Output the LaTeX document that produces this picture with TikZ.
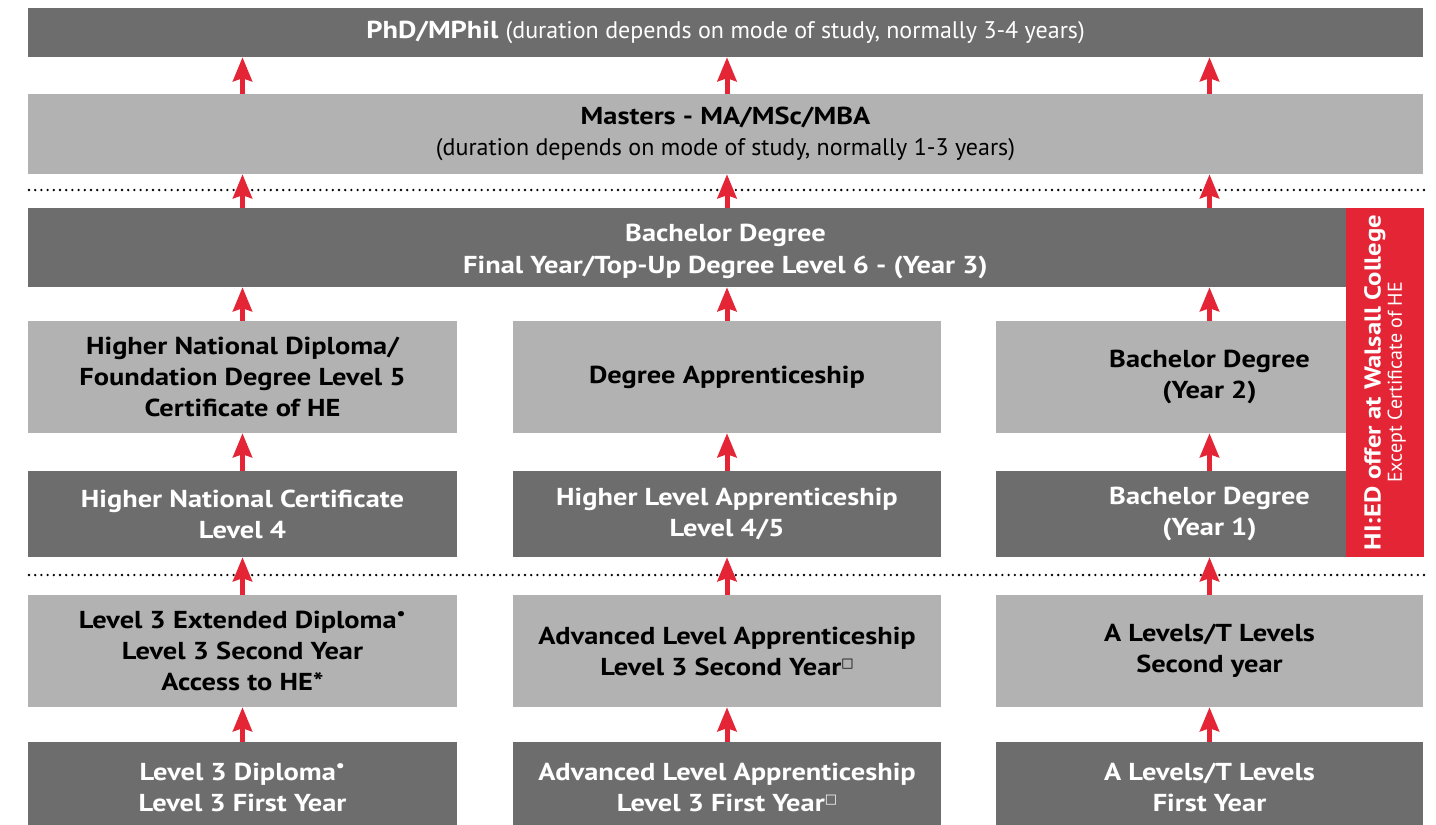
\documentclass[tikz,border=0pt]{standalone}
\usepackage{fontspec}
\setmainfont{PT Sans}[BoldFeatures={FakeStretch=1.16}]
\newfontfamily\symfont{DejaVu Sans}
\usetikzlibrary{arrows.meta}
\definecolor{boxdark}{HTML}{6D6D6D}
\definecolor{boxlight}{HTML}{B2B2B2}
\definecolor{hired}{HTML}{E42535}
\newcommand{\sqmark}{\raisebox{0.6ex}{\symfont\fontsize{13}{13}\selectfont □}}
\newcommand{\dotmark}{\textsuperscript{•}}
\newcommand{\plainpart}{\mdseries\fontsize{24}{31}\selectfont}
\begin{document}
\begin{tikzpicture}[x=1pt,y=-1pt,
    darkbox/.style={fill=boxdark,text=white,inner sep=0pt,align=center,font=\fontsize{24.5}{31}\selectfont\bfseries},
    lightbox/.style={fill=boxlight,text=black,inner sep=0pt,align=center,font=\fontsize{24.5}{31}\selectfont\bfseries},
    uparrow/.style={draw=hired,line width=5pt,-{Stealth[width=19pt,length=24pt,inset=3pt]}},
    dotline/.style={line width=2.6pt,line cap=round,dash pattern=on 0pt off 6.2pt}]
    \useasboundingbox (0,0) rectangle (1436,825);

    \node[darkbox,minimum width=1395pt,minimum height=49pt] (phd) at (725.5,32.5)
        {PhD/MPhil \plainpart(duration depends on mode of study, normally 3-4 years)};
    \node[lightbox,minimum width=1395pt,minimum height=80pt] (masters) at (725.5,134)
        {Masters - MA/MSc/MBA\\\plainpart(duration depends on mode of study, normally 1-3 years)};
    \node[darkbox,minimum width=1395pt,minimum height=79pt,text depth=0pt] (bach) at (725.5,247.5)
        {\raisebox{-3pt}{\shortstack{Bachelor Degree\\[6pt]Final Year/Top-Up Degree Level 6 - (Year 3)}}};

    \node[lightbox,minimum width=429pt,minimum height=112pt] (r4c1) at (242.5,377)
        {Higher National Diploma/\\Foundation Degree Level 5\\Certificate of HE};
    \node[lightbox,minimum width=428pt,minimum height=112pt] (r4c2) at (727,377)
        {Degree Apprenticeship};
    \node[lightbox,minimum width=427pt,minimum height=112pt] (r4c3) at (1209.5,377)
        {Bachelor Degree\\(Year 2)};

    \node[darkbox,minimum width=429pt,minimum height=86pt] (r5c1) at (242.5,514)
        {Higher National Certificate\\Level 4};
    \node[darkbox,minimum width=428pt,minimum height=86pt] (r5c2) at (727,514)
        {Higher Level Apprenticeship\\Level 4/5};
    \node[darkbox,minimum width=427pt,minimum height=86pt] (r5c3) at (1209.5,514)
        {Bachelor Degree\\(Year 1)};

    \node[lightbox,minimum width=429pt,minimum height=112pt] (r6c1) at (242.5,651)
        {Level 3 Extended Diploma\dotmark\\Level 3 Second Year\\Access to HE*};
    \node[lightbox,minimum width=428pt,minimum height=112pt] (r6c2) at (727,651)
        {Advanced Level Apprenticeship\\Level 3 Second Year\sqmark};
    \node[lightbox,minimum width=427pt,minimum height=112pt] (r6c3) at (1209.5,651)
        {A Levels/T Levels\\Second year};

    \node[darkbox,minimum width=429pt,minimum height=90pt] (r7c1) at (242.5,787)
        {Level 3 Diploma\dotmark\\Level 3 First Year};
    \node[darkbox,minimum width=428pt,minimum height=90pt] (r7c2) at (727,787)
        {Advanced Level Apprenticeship\\Level 3 First Year\sqmark};
    \node[darkbox,minimum width=427pt,minimum height=90pt] (r7c3) at (1209.5,787)
        {A Levels/T Levels\\First Year};

    \node[fill=hired,text=white,inner sep=0pt,minimum width=78pt,minimum height=349pt] (hied) at (1385,382.5) {};
    \node[text=white,rotate=90,align=center,inner sep=0pt] (hiedtext) at (hied.center)
        {\fontsize{23}{28}\selectfont\bfseries HI:ED offer at Walsall College\\[1pt]
         \fontsize{20}{22}\selectfont Except Certificate of HE};

    \draw[dotline] (29,190) -- (1425,190);
    \draw[dotline] (29,575) -- (1425,575);

    \foreach \c in {1,2,3} {
        \draw[uparrow] (r7c\c.north) -- (r6c\c.south);
        \draw[uparrow] (r6c\c.north) -- (r5c\c.south);
        \draw[uparrow] (r5c\c.north) -- (r4c\c.south);
        \draw[uparrow] (r4c\c.north) -- (bach.south -| r4c\c);
        \draw[uparrow] (bach.north -| r4c\c) -- (masters.south -| r4c\c);
        \draw[uparrow] (masters.north -| r4c\c) -- (phd.south -| r4c\c);
    }
\end{tikzpicture}
\end{document}
